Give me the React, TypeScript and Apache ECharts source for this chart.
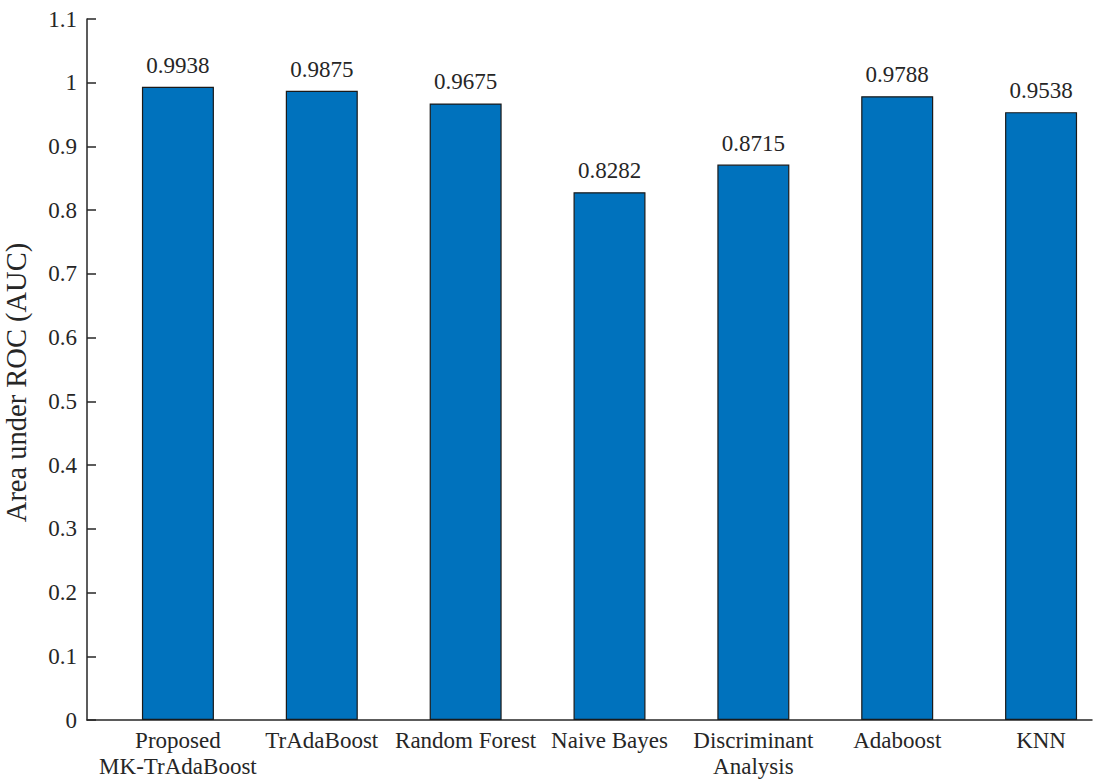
import React, { useEffect, useRef } from "react";
import * as echarts from "echarts";

const categories = [
  "Proposed\nMK-TrAdaBoost",
  "TrAdaBoost",
  "Random Forest",
  "Naive Bayes",
  "Discriminant\nAnalysis",
  "Adaboost",
  "KNN",
];
const aucValues = [0.9938, 0.9875, 0.9675, 0.8282, 0.8715, 0.9788, 0.9538];
const valueLabels = ["0.9938", "0.9875", "0.9675", "0.8282", "0.8715", "0.9788", "0.9538"];
const yTitle = "Area under ROC (AUC)";

const FONT = "'Liberation Serif', 'Times New Roman', serif";
const TEXT = "#262626";

export default function App() {
  const ref = useRef<HTMLDivElement>(null);
  useEffect(() => {
    if (!ref.current) return;
    const chart = echarts.init(ref.current, undefined, { renderer: "svg" });
    chart.setOption({
      animation: false,
      backgroundColor: "#ffffff",
      grid: [
        { left: 87, right: 20, top: 19, bottom: 60, containLabel: false, outerBoundsMode: "none" },
        { left: 106, width: 1007, top: 19, bottom: 60, containLabel: false, outerBoundsMode: "none" },
      ],
      xAxis: [
        {
          type: "value",
          gridIndex: 0,
          min: 0,
          max: 1,
          axisLine: { show: true, lineStyle: { color: TEXT, width: 1.5 } },
          axisTick: { show: false },
          axisLabel: { show: false },
          splitLine: { show: false },
        },
        {
          type: "category",
          gridIndex: 1,
          data: categories,
          axisLine: { show: false },
          axisTick: { show: false },
          splitLine: { show: false },
          axisLabel: {
            interval: 0,
            margin: 7,
            color: TEXT,
            fontFamily: FONT,
            fontSize: 23,
            lineHeight: 26,
          },
        },
      ],
      yAxis: [
        {
          type: "value",
          gridIndex: 0,
          min: 0,
          max: 1.1,
          interval: 0.1,
          name: yTitle,
          nameLocation: "middle",
          nameGap: 56,
          nameTextStyle: {
            color: TEXT,
            fontFamily: FONT,
            fontSize: 28.5,
            padding: [0, 26, 0, 0],
          },
          axisLine: { show: true, lineStyle: { color: TEXT, width: 1.5 } },
          axisTick: { show: true, inside: true, length: 9, lineStyle: { color: TEXT, width: 1.5 } },
          axisLabel: {
            margin: 10,
            color: TEXT,
            fontFamily: FONT,
            fontSize: 23,
            formatter: (v: number) => String(+v.toFixed(1)),
          },
          splitLine: { show: false },
        },
        {
          type: "value",
          gridIndex: 1,
          min: 0,
          max: 1.1,
          show: false,
          splitLine: { show: false },
        },
      ],
      series: [
        {
          type: "bar",
          xAxisIndex: 1,
          yAxisIndex: 1,
          data: aucValues,
          barWidth: 72,
          itemStyle: { color: "#0072BD", borderColor: "#1a1a1a", borderWidth: 1.2 },
          label: {
            show: true,
            position: "top",
            distance: 10,
            color: TEXT,
            fontFamily: FONT,
            fontSize: 23,
            formatter: (p: any) => valueLabels[p.dataIndex],
          },
        },
      ],
    });
    return () => chart.dispose();
  }, []);
  return (
    <div
      ref={ref}
      style={{ position: "fixed", left: 0, top: 0, width: 1112, height: 780, background: "#fff" }}
    />
  );
}
